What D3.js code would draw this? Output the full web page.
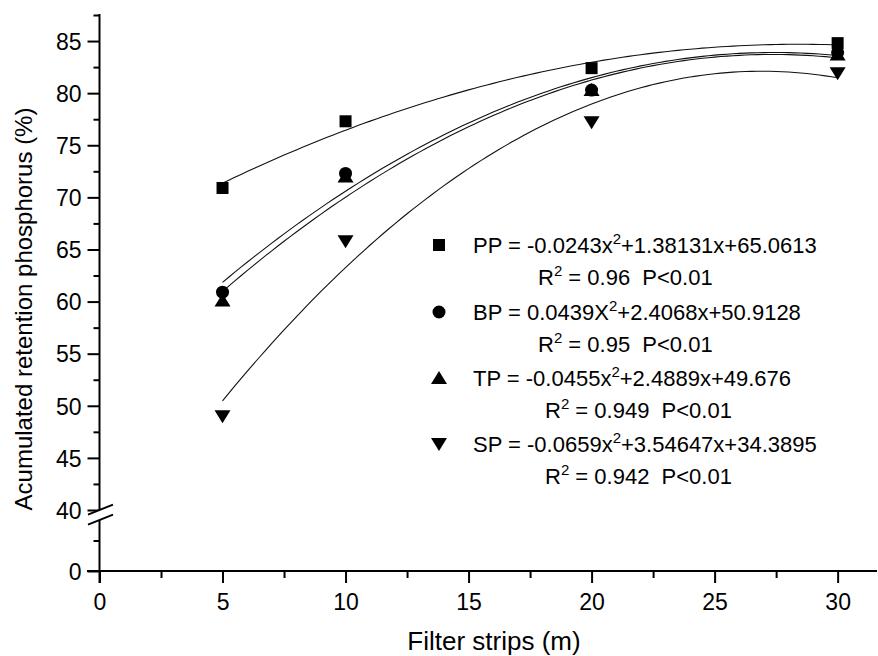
<!DOCTYPE html>
<html lang="en">
<head>
<meta charset="UTF-8" />
<title>Accumulated retention phosphorus</title>
<style>
  body { margin: 0; background: #fff; }
  svg text { font-family: "Liberation Sans", Arial, sans-serif; fill: #000; }
</style>
</head>
<body>
<div id="chart"></div>
<script src="https://d3js.org/d3.v7.min.js"></script>
<script>
  const W = 878, H = 656;

  // filter strip widths (m)
  const strips = [5, 10, 20, 30];
  // accumulated retention (%) per treatment
  const ppVals = [70.9, 77.3, 82.4, 84.8];
  const bpVals = [60.9, 72.3, 80.3, 83.9];
  const tpVals = [60.1, 72.0, 80.3, 83.7];
  const spVals = [49.0, 65.8, 77.2, 81.9];
  // quadratic fit coefficients [a, b, c] as printed in the legend
  const ppFit = [-0.0243, 1.38131, 65.0613];
  const bpFit = [-0.0439, 2.4068, 50.9128];
  const tpFit = [-0.0455, 2.4889, 49.676];
  const spFit = [-0.0659, 3.54647, 34.3895];
  const eqLabels = [
    ["PP = -0.0243x", "+1.38131x+65.0613"],
    ["BP = 0.0439X", "+2.4068x+50.9128"],
    ["TP = -0.0455x", "+2.4889x+49.676"],
    ["SP = -0.0659x", "+3.54647x+34.3895"]
  ];
  const r2Labels = [["0.96", "P<0.01"], ["0.95", "P<0.01"], ["0.949", "P<0.01"], ["0.942", "P<0.01"]];
  const xTicks = [0, 5, 10, 15, 20, 25, 30];
  const xMinor = [2.5, 7.5, 12.5, 17.5, 22.5, 27.5];
  const yTicks = [0, 40, 45, 50, 55, 60, 65, 70, 75, 80, 85];
  const yMinor = [20, 42.5, 47.5, 52.5, 57.5, 62.5, 67.5, 72.5, 77.5, 82.5, 87.5];

  const series = [
    { name: "PP", vals: ppVals, fit: ppFit, shape: "square" },
    { name: "BP", vals: bpVals, fit: bpFit, shape: "circle" },
    { name: "TP", vals: tpVals, fit: tpFit, shape: "up" },
    { name: "SP", vals: spVals, fit: spFit, shape: "down" }
  ];

  const x = d3.scaleLinear().domain([0, 31.6]).range([99.5, 877]);
  // broken axis: 0-40 squeezed at the bottom, 40-87.5 above
  const y = d3.scaleLinear().domain([0, 40, 87.5]).range([571, 510, 15]);

  const svg = d3.select("#chart").append("svg")
    .attr("width", W).attr("height", H);

  // axes
  const xAxis = svg.append("g").attr("transform", "translate(0,571)")
    .call(d3.axisBottom(x).tickValues(xTicks).tickSize(12).tickPadding(11));
  const xAxisMinor = svg.append("g").attr("transform", "translate(0,571)")
    .call(d3.axisBottom(x).tickValues(xMinor).tickSize(7).tickFormat(""));
  const yAxis = svg.append("g").attr("transform", "translate(99.5,0)")
    .call(d3.axisLeft(y).tickValues(yTicks).tickSize(12).tickPadding(6));
  const yAxisMinor = svg.append("g").attr("transform", "translate(99.5,0)")
    .call(d3.axisLeft(y).tickValues(yMinor).tickSize(6).tickFormat(""));

  [xAxis, xAxisMinor, yAxis, yAxisMinor].forEach(g => {
    g.select(".domain").remove();
    g.selectAll("line").attr("stroke", "#000").attr("stroke-width", 2);
    g.selectAll("text").attr("font-size", 23)
      .attr("font-family", "'Liberation Sans', Arial, sans-serif");
  });
  yAxis.selectAll("text").attr("dy", "0.36em");

  svg.append("line").attr("x1", 87).attr("x2", x.range()[1])
    .attr("y1", 571).attr("y2", 571).attr("stroke", "#000").attr("stroke-width", 2);
  svg.append("line").attr("x1", 99.5).attr("x2", 99.5)
    .attr("y1", 583).attr("y2", 14).attr("stroke", "#000").attr("stroke-width", 2);

  // axis break mark
  const by = y(37);
  svg.append("path")
    .attr("d", `M88,${by} L113,${by - 10} L113,${by} L88,${by + 10} Z`)
    .attr("fill", "#fff");
  [0, 10].forEach(o => {
    svg.append("line").attr("x1", 88).attr("y1", by + o).attr("x2", 113).attr("y2", by + o - 10)
      .attr("stroke", "#000").attr("stroke-width", 2);
  });

  // fitted curves
  const line = d3.line().x(d => x(d[0])).y(d => y(d[1])).curve(d3.curveLinear);
  series.forEach(s => {
    const [a, b, c] = s.fit;
    const pts = d3.range(5, 30.01, 0.25).map(t => [t, a * t * t + b * t + c]);
    svg.append("path").attr("d", line(pts))
      .attr("fill", "none").attr("stroke", "#111").attr("stroke-width", 1.1);
  });

  function marker(g, shape, cx, cy) {
    if (shape === "square") {
      g.append("rect").attr("x", cx - 6).attr("y", cy - 6).attr("width", 12).attr("height", 12);
    } else if (shape === "circle") {
      g.append("circle").attr("cx", cx).attr("cy", cy).attr("r", 6.5);
    } else if (shape === "up") {
      g.append("path").attr("d", `M${cx},${cy - 7} L${cx + 8},${cy + 6} L${cx - 8},${cy + 6} Z`);
    } else {
      g.append("path").attr("d", `M${cx},${cy + 7} L${cx + 8},${cy - 6} L${cx - 8},${cy - 6} Z`);
    }
  }

  // data points
  series.forEach(s => {
    const g = svg.append("g").attr("fill", "#000");
    strips.forEach((t, i) => marker(g, s.shape, x(t), y(s.vals[i])));
  });

  // legend with equations
  const leg = svg.append("g");
  const eqY = [253, 320, 386, 452];
  const r2X = [538, 538, 545, 545];
  series.forEach((s, i) => {
    const g = leg.append("g").attr("fill", "#000");
    marker(g, s.shape, 439, eqY[i] - 8);
    const t = leg.append("text").attr("x", 473).attr("y", eqY[i]).attr("font-size", 22);
    t.append("tspan").text(eqLabels[i][0]);
    t.append("tspan").attr("dy", -9).attr("font-size", 15).text("2");
    t.append("tspan").attr("dy", 9).text(eqLabels[i][1]);
    const r = leg.append("text").attr("x", r2X[i]).attr("y", eqY[i] + 32).attr("font-size", 22)
      .attr("xml:space", "preserve");
    r.append("tspan").text("R");
    r.append("tspan").attr("dy", -9).attr("font-size", 15).text("2");
    r.append("tspan").attr("dy", 9).text(" = " + r2Labels[i][0] + "  " + r2Labels[i][1]);
  });

  // axis titles
  svg.append("text").attr("x", 494).attr("y", 650).attr("text-anchor", "middle")
    .attr("font-size", 26).text("Filter strips (m)");
  svg.append("text").attr("transform", "translate(32,309) rotate(-90)")
    .attr("text-anchor", "middle").attr("font-size", 24)
    .text("Acumulated retention phosphorus (%)");
</script>
</body>
</html>
